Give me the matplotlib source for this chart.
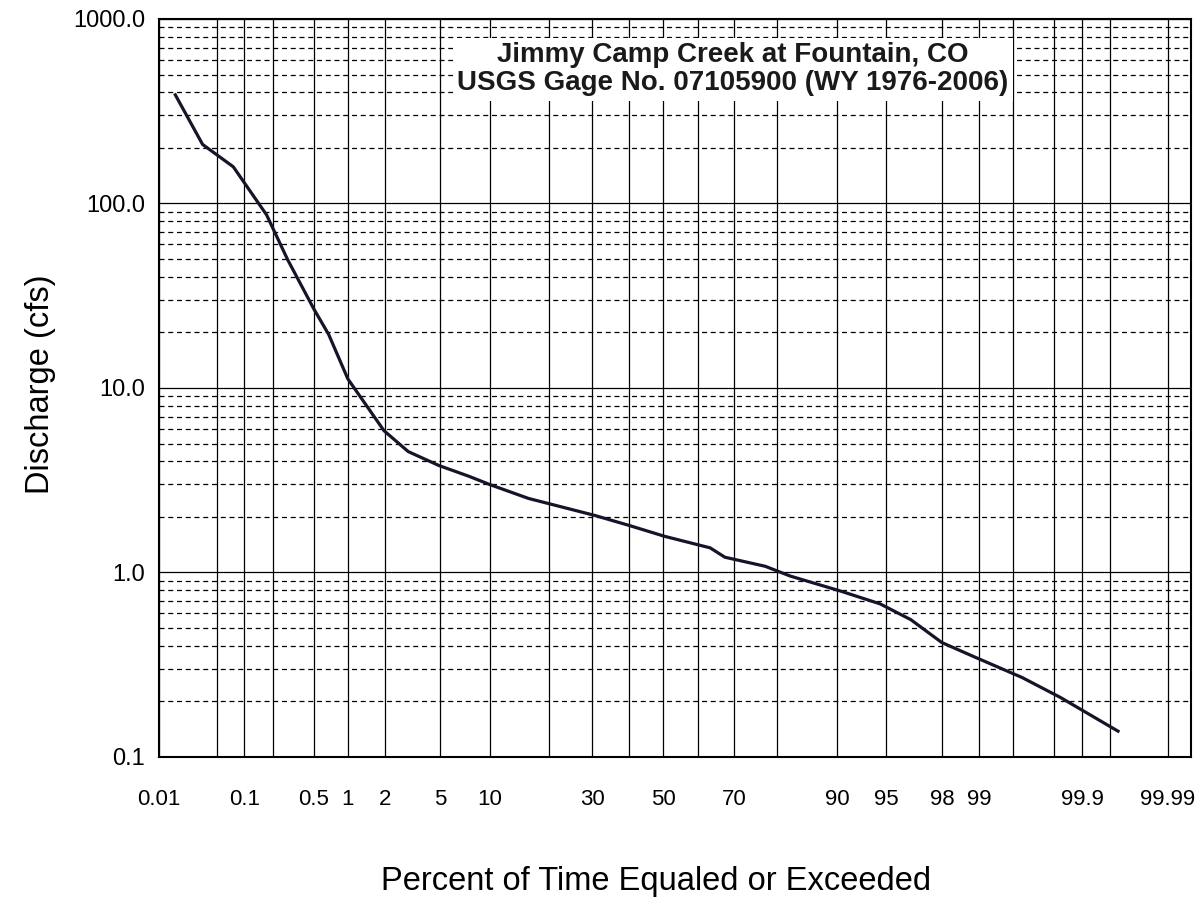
from statistics import NormalDist
import matplotlib
matplotlib.use("Agg")
import matplotlib.pyplot as plt
import numpy as np

plt.rcParams['font.family'] = ['Liberation Sans', 'DejaVu Sans']

# flow duration curve (percent exceeded, discharge cfs)
pct_exceeded = [0.016, 0.034, 0.076, 0.172, 0.28, 0.5, 0.68, 1.0, 1.97, 3.0, 4.9, 7.6,
                10.0, 16.0, 30.6, 40.0, 50.4, 63.5, 67.5, 77.4, 82.5, 90.4, 94.5,
                96.6, 98.0, 98.94, 99.59, 99.83, 99.96]
discharge = [388, 209, 158, 86.7, 49.6, 26.7, 19.5, 11.2, 5.87, 4.52, 3.80, 3.32,
             3.0, 2.52, 2.04, 1.80, 1.57, 1.36, 1.21, 1.08, 0.957, 0.794, 0.676,
             0.555, 0.417, 0.346, 0.27, 0.21, 0.138]

label_ticks = [0.01, 0.1, 0.5, 1, 2, 5, 10, 30, 50, 70, 90, 95, 98, 99, 99.9, 99.99]
label_text = ["0.01", "0.1", "0.5", "1", "2", "5", "10", "30", "50", "70", "90", "95",
              "98", "99", "99.9", "99.99"]
extra_grid = [0.05, 0.2, 20, 40, 60, 80, 99.5, 99.8, 99.95]
y_ticks = [0.1, 1, 10, 100, 1000]
y_text = ["0.1", "1.0", "10.0", "100.0", "1000.0"]

nd = NormalDist()
_fwd = np.vectorize(lambda v: nd.inv_cdf(v / 100.0), otypes=[float])
_inv = np.vectorize(lambda v: nd.cdf(v) * 100.0, otypes=[float])


def prob_fwd(p):
    # percent -> standard normal deviate (probability paper)
    p = np.clip(np.asarray(p, dtype=float), 1e-7, 100 - 1e-7)
    return _fwd(p)


def prob_inv(z):
    return _inv(np.asarray(z, dtype=float))


fig = plt.figure(figsize=(11.99, 9), dpi=100)
ax = fig.add_axes([0.1326, 0.1589, 0.8607, 0.82])
ax.set_xscale('function', functions=(prob_fwd, prob_inv))
ax.set_yscale('log')

ax.plot(pct_exceeded, discharge, color='#15152a', lw=2.3, zorder=3)

ax.set_xlim(0.01, 99.995)
ax.set_ylim(0.1, 1000)

ax.set_xticks(label_ticks)
ax.set_xticklabels(label_text, fontsize=16)
ax.set_xticks(extra_grid, minor=True)
ax.set_yticks(y_ticks)
ax.set_yticklabels(y_text, fontsize=17)
ax.yaxis.set_minor_locator(matplotlib.ticker.LogLocator(base=10, subs=np.arange(2, 10)))
ax.yaxis.set_minor_formatter(matplotlib.ticker.NullFormatter())
ax.tick_params(which='both', length=0)
ax.tick_params(axis='x', pad=23)
ax.tick_params(axis='y', pad=10)

ax.set_axisbelow(True)
ax.grid(True, axis='x', which='both', color='black', lw=0.9)
ax.grid(True, axis='y', which='major', color='black', lw=0.9)
ax.grid(True, axis='y', which='minor', color='black', lw=0.9, ls=(0, (4, 3)))
for s in ax.spines.values():
    s.set_linewidth(1.5)

ax.set_xlabel("Percent of Time Equaled or Exceeded", fontsize=23.5)
ax.xaxis.set_label_coords(0.482, -0.148)
ax.set_ylabel("Discharge (cfs)", fontsize=23.5)
ax.yaxis.set_label_coords(-0.1, 0.505)

ax.text(0.556, 0.932, "Jimmy Camp Creek at Fountain, CO\nUSGS Gage No. 07105900 (WY 1976-2006)",
        transform=ax.transAxes, ha='center', va='center', fontsize=20, fontweight='bold',
        color='#1a1a1a', linespacing=1.12, zorder=4,
        bbox=dict(facecolor='white', edgecolor='none', pad=3))

fig.savefig("out.png", dpi=100)
